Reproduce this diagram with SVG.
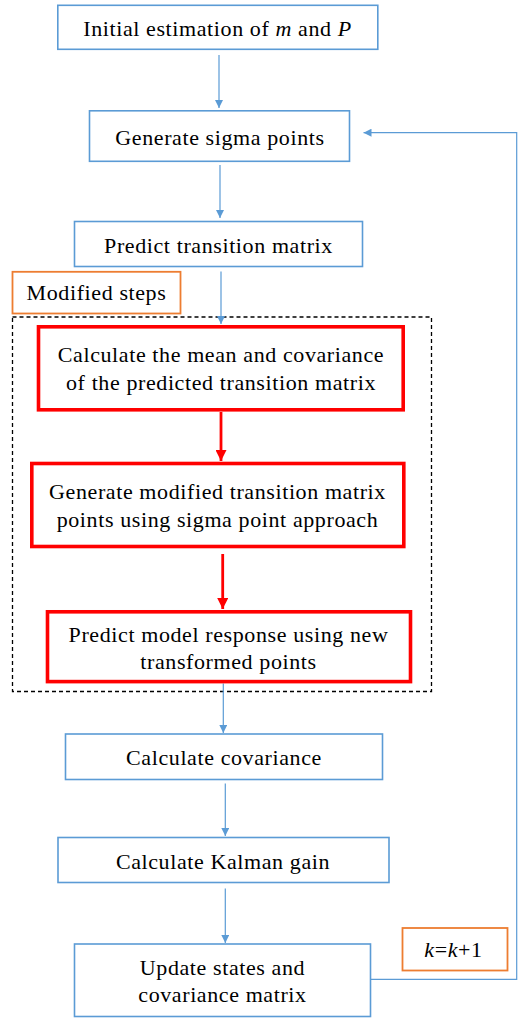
<svg xmlns="http://www.w3.org/2000/svg" width="518" height="1018" viewBox="0 0 518 1018">
<style>
.b{fill:#fff;stroke:#5B9BD5;stroke-width:1.6}
.r{fill:#fff;stroke:#FF0000;stroke-width:3.6}
.o{fill:#fff;stroke:#ED7D31;stroke-width:1.8}
.cb{stroke:#5B9BD5;stroke-width:1.2;fill:none}
.cr{stroke:#FF0000;stroke-width:2.8;fill:none}
</style>
<defs>
<marker id="ab" viewBox="0 0 10 10" refX="10" refY="5" markerWidth="8" markerHeight="8" markerUnits="userSpaceOnUse" orient="auto"><path d="M0,0L10,5L0,10z" fill="#5B9BD5"/></marker>
<marker id="ar" viewBox="0 0 10 10" refX="10" refY="5" markerWidth="11" markerHeight="11" markerUnits="userSpaceOnUse" orient="auto"><path d="M0,0L10,5L0,10z" fill="#FF0000"/></marker>
</defs>
<rect id="modified-region" x="12.5" y="317" width="419" height="374.5" fill="none" stroke="#000" stroke-width="1.3" stroke-dasharray="4 3"/>
<g id="connectors">
<line class="cb" x1="219" y1="55" x2="219" y2="108" marker-end="url(#ab)"/>
<line class="cb" x1="220" y1="165" x2="220" y2="218" marker-end="url(#ab)"/>
<line class="cb" x1="221" y1="271.5" x2="221" y2="324" marker-end="url(#ab)"/>
<line class="cr" x1="221" y1="412" x2="221" y2="461" marker-end="url(#ar)"/>
<line class="cr" x1="222.7" y1="554" x2="222.7" y2="609" marker-end="url(#ar)"/>
<line class="cb" x1="223.3" y1="683.5" x2="223.3" y2="733" marker-end="url(#ab)"/>
<line class="cb" x1="225.3" y1="783.5" x2="225.3" y2="836" marker-end="url(#ab)"/>
<line class="cb" x1="225.3" y1="888.5" x2="225.3" y2="943" marker-end="url(#ab)"/>
<path class="cb" d="M371,979.3H516.7V132.7H363.5" marker-end="url(#ab)"/>
</g>
<g id="n-init"><rect class="b" x="57.8" y="5.3" width="320" height="44"/><text font-family="Liberation Serif, Tinos, Times New Roman, serif" font-size="22" letter-spacing="0.6" text-anchor="middle" x="217.5" y="35.5">Initial estimation of <tspan font-style="italic">m</tspan> and <tspan font-style="italic">P</tspan></text></g>
<g id="n-sigma"><rect class="b" x="89.5" y="110.8" width="260" height="50.5"/><text font-family="Liberation Serif, Tinos, Times New Roman, serif" font-size="22" letter-spacing="0.6" text-anchor="middle" x="220" y="145">Generate sigma points</text></g>
<g id="n-predict"><rect class="b" x="74.5" y="221.5" width="288" height="45"/><text font-family="Liberation Serif, Tinos, Times New Roman, serif" font-size="22" letter-spacing="0.6" text-anchor="middle" x="218.5" y="252.5">Predict transition matrix</text></g>
<g id="n-modlabel"><rect class="o" x="12.5" y="271.8" width="168" height="41.7"/><text font-family="Liberation Serif, Tinos, Times New Roman, serif" font-size="22" letter-spacing="0.6" text-anchor="middle" x="96.5" y="300">Modified steps</text></g>
<g id="n-mean"><rect class="r" x="38.5" y="326.8" width="364.7" height="83"/><text font-family="Liberation Serif, Tinos, Times New Roman, serif" font-size="22" letter-spacing="0.6" text-anchor="middle" x="221" y="361.5">Calculate the mean and covariance</text><text font-family="Liberation Serif, Tinos, Times New Roman, serif" font-size="22" letter-spacing="0.6" text-anchor="middle" x="221" y="390">of the predicted transition matrix</text></g>
<g id="n-genmod"><rect class="r" x="31.8" y="463.5" width="372" height="83"/><text font-family="Liberation Serif, Tinos, Times New Roman, serif" font-size="22" letter-spacing="0.6" text-anchor="middle" x="217.5" y="499">Generate modified transition matrix</text><text font-family="Liberation Serif, Tinos, Times New Roman, serif" font-size="22" letter-spacing="0.6" text-anchor="middle" x="217.5" y="526.5">points using sigma point approach</text></g>
<g id="n-response"><rect class="r" x="47.5" y="611.8" width="363" height="69.8"/><text font-family="Liberation Serif, Tinos, Times New Roman, serif" font-size="22" letter-spacing="0.6" text-anchor="middle" x="228.5" y="641.5">Predict model response using new</text><text font-family="Liberation Serif, Tinos, Times New Roman, serif" font-size="22" letter-spacing="0.6" text-anchor="middle" x="228.5" y="668.5">transformed points</text></g>
<g id="n-cov"><rect class="b" x="65.5" y="734" width="317" height="45.5"/><text font-family="Liberation Serif, Tinos, Times New Roman, serif" font-size="22" letter-spacing="0.6" text-anchor="middle" x="224" y="765">Calculate covariance</text></g>
<g id="n-kalman"><rect class="b" x="58" y="837.5" width="331" height="45"/><text font-family="Liberation Serif, Tinos, Times New Roman, serif" font-size="22" letter-spacing="0.6" text-anchor="middle" x="223" y="869">Calculate Kalman gain</text></g>
<g id="n-update"><rect class="b" x="74.5" y="944" width="296" height="72.5"/><text font-family="Liberation Serif, Tinos, Times New Roman, serif" font-size="22" letter-spacing="0.6" text-anchor="middle" x="222.5" y="975">Update states and</text><text font-family="Liberation Serif, Tinos, Times New Roman, serif" font-size="22" letter-spacing="0.6" text-anchor="middle" x="222.5" y="1001.5">covariance matrix</text></g>
<g id="n-k"><rect class="o" x="402.5" y="928" width="105" height="42.5"/><text font-family="Liberation Serif, Tinos, Times New Roman, serif" font-size="22" letter-spacing="0.6" text-anchor="middle" x="453.5" y="956.5"><tspan font-style="italic">k</tspan>=<tspan font-style="italic">k</tspan>+1</text></g>
</svg>
